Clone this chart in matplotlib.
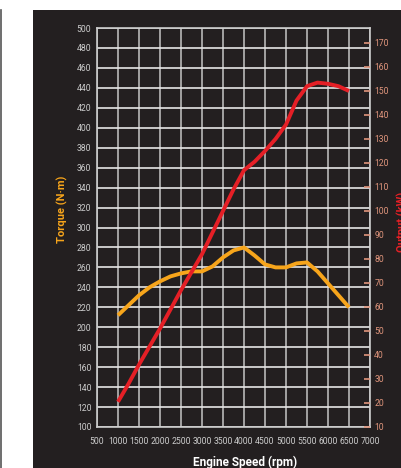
import matplotlib
matplotlib.use("Agg")
import matplotlib.pyplot as plt
from matplotlib.patches import Rectangle
from matplotlib.lines import Line2D

# ── dados ──────────────────────────────────────────────
rpm = [1000, 1250, 1500, 1750, 2000, 2250, 2500, 2750, 3000, 3250, 3500, 3750,
       4000, 4250, 4500, 4750, 5000, 5250, 5500, 5750, 6000, 6250, 6500]
torque_nm = [212, 222, 232, 240, 246, 251, 254, 256, 256, 261, 270, 277,
             280, 272, 263, 260, 260, 264, 265, 256, 244, 232, 220]
output_kw = [20.5, 28, 36, 43.5, 51, 59, 67, 74.5, 82, 91, 100, 109,
             117, 120.5, 125, 130, 136, 146, 152, 153.5, 153, 152, 150]

x_ticks = list(range(500, 7001, 500))
torque_ticks = list(range(100, 501, 20))
output_ticks = list(range(10, 171, 10))

# ── cores ──────────────────────────────────────────────
FUNDO = "#231f20"
LARANJA = "#f7a51b"
VERMELHO = "#e51f26"
SALMAO = "#e0957c"
CINZA = "#cccccc"

FONTE = ["Liberation Sans Narrow", "Roboto", "DejaVu Sans"]
plt.rcParams["font.family"] = FONTE

W, H = 402, 468
fig = plt.figure(figsize=(W / 100, H / 100), dpi=100)
fig.patch.set_facecolor("white")

# painel escuro + borda à esquerda
fig.patches.append(Rectangle((33 / W, 0), 1, (H - 10) / H, transform=fig.transFigure,
                             facecolor=FUNDO, edgecolor="none", zorder=-10))
fig.lines.append(Line2D([1.5 / W, 1.5 / W], [0, (H - 10) / H], transform=fig.transFigure,
                        color="#555555", lw=1.2, zorder=-10))

ax = fig.add_axes([97 / W, (H - 427) / H, 273 / W, 399 / H])
ax.set_zorder(2)
ax.set_facecolor(FUNDO)
ax.set_xlim(500, 7000)
ax.set_ylim(100, 500)
ax.set_xticks(x_ticks)
ax.set_yticks(torque_ticks)

for x in x_ticks:
    ax.axvline(x, color="#b8b8b8", lw=1.2, zorder=1)
for y in torque_ticks:
    ax.axhline(y, color="#e6e6e6", lw=1.2, zorder=1)

for s in ax.spines.values():
    s.set_color(CINZA)
    s.set_linewidth(1.2)

ax.tick_params(axis="both", length=0, colors=CINZA, labelsize=6.2)
ax.tick_params(axis="x", pad=7)
ax.tick_params(axis="y", pad=4)

ax.plot(rpm, torque_nm, color=LARANJA, lw=2.8, solid_capstyle="butt",
        solid_joinstyle="round", zorder=3)

ax2 = ax.twinx()
ax2.set_zorder(3)
ax2.set_ylim(10, 10 + 399 / 2.4)
ax2.set_yticks(output_ticks)
ax2.tick_params(axis="y", direction="in", length=4.5, width=1.2, color=SALMAO,
                labelcolor=SALMAO, labelsize=6.2, pad=3)
for s in ax2.spines.values():
    s.set_visible(False)
ax2.plot(rpm, output_kw, color=VERMELHO, lw=2.8, solid_capstyle="butt",
         solid_joinstyle="round", zorder=3)

# rótulos dos eixos
fig.text(62 / W, 1 - 209 / H, "Torque (N·m)", rotation=90, ha="center", va="center",
         color=LARANJA, fontsize=8, fontweight="bold", family=["Roboto", "DejaVu Sans"])
fig.text(245 / W, 1 - 462 / H, "Engine Speed (rpm)", ha="center", va="center",
         color="white", fontsize=8.5, fontweight="bold", family=["Roboto", "DejaVu Sans"])
fig.text(397 / W, 1 - 222 / H, "Output (kW)", rotation=90, ha="left", va="center",
         color=VERMELHO, fontsize=8, fontweight="bold", family=["Roboto", "DejaVu Sans"])

fig.savefig("out.png", dpi=100, facecolor=fig.get_facecolor())
